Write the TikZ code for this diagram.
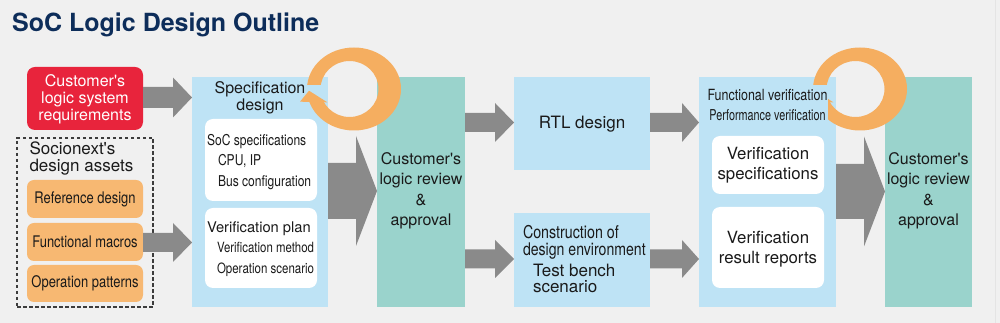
\documentclass[tikz,border=0pt]{standalone}
\usepackage{fontspec}
\setmainfont{TeX Gyre Heros}
\newfontfamily\hf{TeX Gyre Heros}
\newfontfamily\cf{TeX Gyre Heros}[FakeStretch=0.81]
\newfontfamily\ccf{TeX Gyre Heros}[FakeStretch=0.72]
\usetikzlibrary{calc}
\definecolor{bgc}{HTML}{F0F0F0}
\definecolor{navyc}{HTML}{0D2D5A}
\definecolor{redc}{HTML}{E8243C}
\definecolor{orc}{HTML}{F7B872}
\definecolor{ringc}{HTML}{F5AE60}
\definecolor{bluec}{HTML}{BEE3F5}
\definecolor{tealc}{HTML}{9AD3CC}
\definecolor{grayc}{HTML}{8A8A8A}
\definecolor{textc}{HTML}{1A1A1A}
\definecolor{edgec}{HTML}{E4E4E4}
\newcommand\fs[2]{\fontsize{#1}{#2}\selectfont}
% block arrow: from node, to node, Y, body half, head half, head length
\newcommand\garrow[6]{%
  \fill[grayc] let \p1=(#1.east), \p2=(#2.west) in
    (\x1,#3-#4) -- (\x2-#6pt,#3-#4) -- (\x2-#6pt,#3-#5) -- (\x2,#3)
    -- (\x2-#6pt,#3+#5) -- (\x2-#6pt,#3+#4) -- (\x1,#3+#4) -- cycle;}
% circular arrow around centre (#1,#2)
\newcommand\ringarrow[2]{%
  \begin{scope}
    \clip (#1-70,#2-60) -- (#1+70,#2-60) -- (#1+70,#2+60) -- (#1-70,#2+60)
      -- (#1-70,#2+4) -- (#1-17,#2+4) -- (#1-17,#2-12.7) -- (#1-70,#2-12.7) -- cycle;
    \fill[ringc, even odd rule] (#1,#2) ellipse[x radius=47pt, y radius=41.5pt]
      (#1-4.5,#2) ellipse[x radius=29pt, y radius=28pt];
  \end{scope}
  \fill[ringc] (#1-54,#2-12.7) -- (#1-26.7,#2-13.3) -- (#1-45,#2-1.7) -- cycle;}
\begin{document}
\begin{tikzpicture}[x=1pt,y=1pt,
  shp/.style={inner sep=0pt, outer sep=0pt},
  redbox/.style={shp, fill=redc, rounded corners=8pt},
  orbox/.style={shp, fill=orc, rounded corners=7pt},
  bluebox/.style={shp, fill=bluec},
  tealbox/.style={shp, fill=tealc},
  whitebox/.style={shp, fill=white, rounded corners=8pt},
  dashbox/.style={shp, draw=textc!85, line width=1.2pt, dash pattern=on 3.5pt off 2.5pt},
  txt/.style={inner sep=0pt, outer sep=0pt, align=center, text=textc}]
\useasboundingbox (0,0) rectangle (1000,323);
\fill[bgc] (0,0) rectangle (1000,323);
\draw[edgec, line width=0.6pt] (995.7,0) -- (995.7,323);

% title
\node[anchor=base west, inner sep=0pt, text=navyc, font=\hf\bfseries\fs{25}{30}] (title) at (12,291) {SoC Logic Design Outline};

% boxes
\node[redbox, minimum width=116pt, minimum height=63pt] (req) at (85,224.5) {};
\node[dashbox, minimum width=136pt, minimum height=169pt] (assets) at (85,100.5) {};
\node[orbox, minimum width=116pt, minimum height=38pt] (ref) at (85,124) {};
\node[orbox, minimum width=116pt, minimum height=38pt] (fm) at (85,81) {};
\node[orbox, minimum width=116pt, minimum height=37pt] (op) at (85,39.5) {};
\node[bluebox, minimum width=136pt, minimum height=230pt] (spec) at (260,131) {};
\node[whitebox, minimum width=112pt, minimum height=82pt] (w1) at (261,163) {};
\node[whitebox, minimum width=112pt, minimum height=80pt] (w2) at (261,75) {};
\node[tealbox, minimum width=88pt, minimum height=230pt] (app1) at (421,131) {};
\node[bluebox, minimum width=136pt, minimum height=93pt] (rtl) at (582,199.5) {};
\node[bluebox, minimum width=136pt, minimum height=94pt] (cons) at (582,63) {};
\node[bluebox, minimum width=137pt, minimum height=230pt] (func) at (767.5,131) {};
\node[whitebox, minimum width=112pt, minimum height=58pt] (w3) at (768,158) {};
\node[whitebox, minimum width=112pt, minimum height=81pt] (w4) at (768,75.5) {};
\node[tealbox, minimum width=87pt, minimum height=230pt] (app2) at (928.5,131) {};

% circular arrows
\ringarrow{354}{234}
\ringarrow{860}{234}

% block arrows
\garrow{req}{spec}{225.5}{10.5}{20}{19}
\garrow{fm}{spec}{80.5}{9.5}{19.5}{19}
\garrow{spec}{app1}{132}{28}{55}{21}
\garrow{app1}{rtl}{200.5}{9.5}{19.5}{19}
\garrow{app1}{cons}{64}{9.5}{19}{19}
\garrow{rtl}{func}{200.5}{9.5}{19.5}{17}
\garrow{cons}{func}{64}{9.5}{19}{17}
\garrow{func}{app2}{131.5}{27.5}{55}{21}

% texts
\node[txt, text=white, font=\hf\fs{16}{17.2}] (reqt) at (85,224) {Customer's\\logic system\\requirements};
\node[txt, align=left, anchor=west, font=\hf\fs{17}{17}] (assetst) at (29.5,164.5) {Socionext's\\design assets};
\node[txt, font=\cf\fs{16}{18}] (reft) at (85,124) {Reference design};
\node[txt, font=\cf\fs{16}{18}] (fmt) at (85,81) {Functional macros};
\node[txt, font=\cf\fs{16}{18}] (opt) at (85,39.5) {Operation patterns};

\node[txt, font=\hf\fs{16}{17.5}] (spect) at (260,225) {Specification\\design};
\node[txt, anchor=base west, font=\cf\fs{14.9}{18}] (socs) at (207,177.5) {SoC specifications};
\node[txt, anchor=base west, font=\cf\fs{14.9}{18}] (cpu) at (218,157.5) {CPU, IP};
\node[txt, anchor=base west, font=\cf\fs{14.9}{18}] (bus) at (218,136.5) {Bus configuration};
\node[txt, anchor=base west, font=\hf\fs{14.7}{18}] (vplan) at (207,90.5) {Verification plan};
\node[txt, anchor=base west, font=\cf\fs{14.1}{18}] (vmeth) at (217,70) {Verification method};
\node[txt, anchor=base west, font=\cf\fs{14.2}{18}] (oscen) at (217,49) {Operation scenario};

\node[txt, font=\hf\fs{16}{20.5}] (app1t) at (421,132) {Customer's\\logic review\\\&\\approval};

\node[txt, font=\hf\fs{17}{20}] (rtlt) at (582,199) {RTL design};
\node[txt, anchor=base west, font=\cf\fs{17.6}{18}] (cons1) at (523,84.7) {Construction of};
\node[txt, anchor=base west, font=\cf\fs{17.4}{18}] (cons2) at (523,67) {design environment};
\node[txt, anchor=base west, font=\hf\fs{17}{18}] (tb) at (533,46) {Test bench};
\node[txt, anchor=base west, font=\hf\fs{17}{18}] (scen) at (533,30.2) {scenario};

\node[txt, fill=bluec, inner sep=1pt, font=\hf\fs{15}{20}] (funct) at (767.5,218)
  {{\cf\fs{15.4}{20}Functional verification}\\{\ccf\fs{15}{20}Performance verification}};
\node[txt, font=\hf\fs{16.8}{20}] (w3t) at (768,158) {Verification\\specifications};
\node[txt, font=\hf\fs{16.8}{20}] (w4t) at (768,74) {Verification\\result reports};

\node[txt, font=\hf\fs{16}{20.5}] (app2t) at (928.5,132) {Customer's\\logic review\\\&\\approval};
\end{tikzpicture}
\end{document}
